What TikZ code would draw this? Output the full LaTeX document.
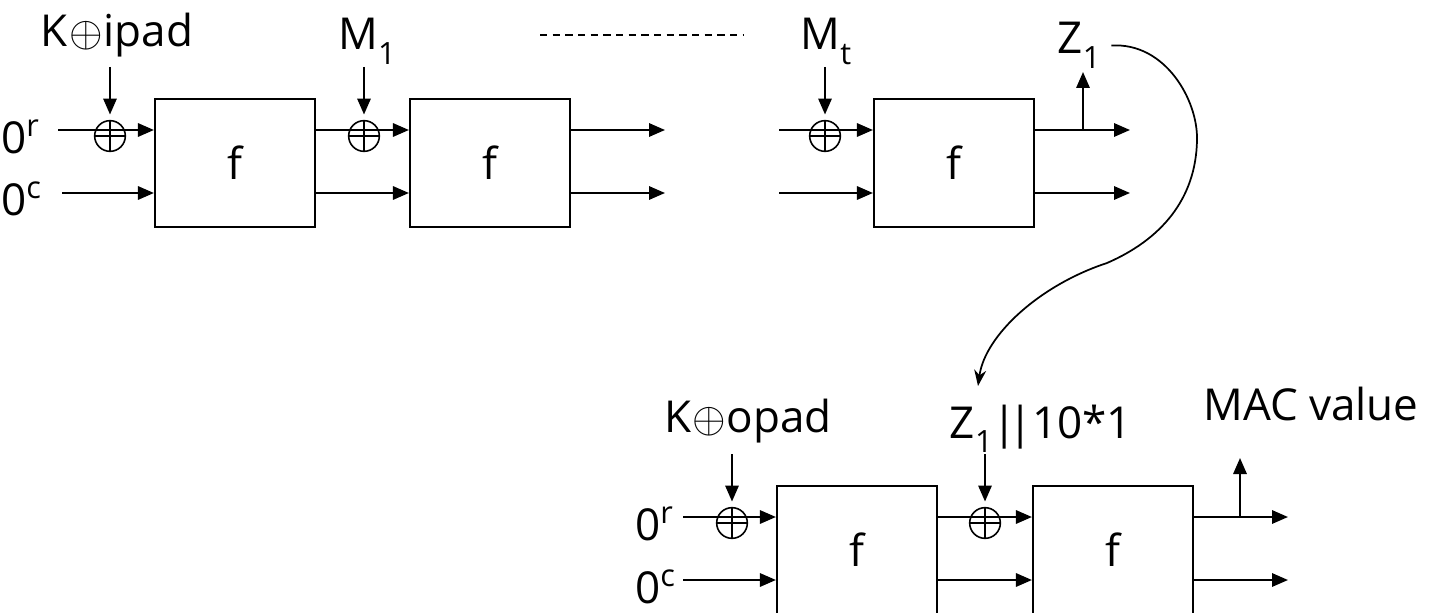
\documentclass[tikz,border=0pt]{standalone}
\usepackage{fontspec}
\usepackage{graphicx}
\setmainfont{Open Sans}
\usetikzlibrary{arrows.meta,positioning}
\newcommand{\xorsym}{\kern0.03em\scalebox{1.3}{$\oplus$}\kern0.02em}
\newcommand{\subtxt}[1]{\raisebox{-0.33em}{\fontsize{23}{23}\selectfont #1}}
\newcommand{\suptxt}[1]{\raisebox{0.37em}{\fontsize{23}{23}\selectfont #1}}

\begin{document}
\begin{tikzpicture}[
    x=0.75pt,y=-0.75pt,
    font=\fontsize{33}{38}\selectfont,
    fbox/.style={draw,line width=1.6pt,minimum width=120pt,minimum height=96pt,inner sep=0pt},
    lbl/.style={inner sep=0pt,anchor=base},
    inlbl/.style={inner sep=0pt,anchor=base west},
    xor/.style={draw,circle,line width=1.2pt,minimum size=23pt,inner sep=0pt,
      path picture={\draw[line width=1.2pt] (path picture bounding box.north) -- (path picture bounding box.south)
        (path picture bounding box.west) -- (path picture bounding box.east);}},
    arrow/.style={-{Triangle[length=12pt,width=10pt]},line width=1.6pt},
    down/.style={arrow,shorten >=4pt}
  ]
    \useasboundingbox (0,0) rectangle (1433,613);

    % inner hash
    \node[fbox] (f1) at (235,163) {f};
    \node[fbox] (f2) at (490,163) {f};
    \node[fbox] (f3) at (954,163) {f};
    \node[xor] (x1) at (110,136) {};
    \node[xor] (x2) at (364,136) {};
    \node[xor] (x3) at (825,136) {};
    \node[lbl] (kin) at (117,47) {K\xorsym ipad};
    \node[lbl] (m1) at (367,50) {M\subtxt{1}};
    \node[lbl] (mt) at (826,50) {M\subtxt{t}};
    \node[lbl] (z1) at (1079,54) {Z\subtxt{1}};
    \node[inlbl] (r1) at (1,153) {0\suptxt{r}};
    \node[inlbl] (c1) at (1,215) {0\suptxt{c}};

    \coordinate (a1) at (58,130);
    \coordinate (b1) at (62,193);
    \coordinate (a2) at (665,130);
    \coordinate (b2) at (665,193);
    \coordinate (a3) at (779,130);
    \coordinate (b3) at (779,193);
    \coordinate (a6) at (1130,130);
    \coordinate (b6) at (1130,193);
    \coordinate (t3) at (1083,130);
    \coordinate (u3) at (1083,72);
    \coordinate (k1) at (110,67);
    \coordinate (k2) at (364,67);
    \coordinate (k3) at (825,67);
    \coordinate (d1) at (540,35);
    \coordinate (d2) at (743,35);

    \draw[arrow] (a1) -- (a1 -| f1.west);
    \draw[arrow] (b1) -- (b1 -| f1.west);
    \draw[arrow] (f1.east |- a1) -- (f2.west |- a1);
    \draw[arrow] (f1.east |- b1) -- (f2.west |- b1);
    \draw[arrow] (f2.east |- a2) -- (a2);
    \draw[arrow] (f2.east |- b2) -- (b2);
    \draw[arrow] (a3) -- (a3 -| f3.west);
    \draw[arrow] (b3) -- (b3 -| f3.west);
    \draw[arrow] (f3.east |- a6) -- (a6);
    \draw[arrow] (f3.east |- b6) -- (b6);
    \draw[arrow] (t3) -- (u3);
    \draw[down] (k1) -- (x1.north);
    \draw[down] (k2) -- (x2.north);
    \draw[down] (k3) -- (x3.north);
    \draw[line width=2.2pt,dash pattern=on 5.5pt off 4pt] (d1) -- (d2);

    % outer hash
    \node[fbox] (f4) at (857,550) {f};
    \node[fbox] (f5) at (1113,550) {f};
    \node[xor] (x4) at (732,523) {};
    \node[xor] (x5) at (985,523) {};
    \node[lbl] (kout) at (748,432) {K\xorsym opad};
    \node[lbl] (zpad) at (1041,438) {Z\subtxt{1}|\kern-0.2em|10*1};
    \node[lbl] (mac) at (1311,420) {MAC value};
    \node[inlbl] (r4) at (635,540) {0\suptxt{r}};
    \node[inlbl] (c4) at (635,603) {0\suptxt{c}};

    \coordinate (a4) at (683,517);
    \coordinate (b4) at (683,580);
    \coordinate (a5) at (1288,517);
    \coordinate (b5) at (1288,580);
    \coordinate (t5) at (1240,517);
    \coordinate (u5) at (1240,458);
    \coordinate (k4) at (732,454);
    \coordinate (k5) at (985,454);
    \coordinate (zin) at (978,386);

    \draw[arrow] (a4) -- (a4 -| f4.west);
    \draw[arrow] (b4) -- (b4 -| f4.west);
    \draw[arrow] (f4.east |- a4) -- (f5.west |- a4);
    \draw[arrow] (f4.east |- b4) -- (f5.west |- b4);
    \draw[arrow] (f5.east |- a5) -- (a5);
    \draw[arrow] (f5.east |- b5) -- (b5);
    \draw[arrow] (t5) -- (u5);
    \draw[down] (k4) -- (x4.north);
    \draw[down] (k5) -- (x5.north);

    % Z1 carried over
    \draw[line width=1.3pt,-{Stealth[length=12pt,width=9pt]}] ([xshift=8pt]z1.east)
      .. controls (1165,42) and (1198,100) .. (1197,140)
      .. controls (1196,200) and (1160,240) .. (1107,263)
      .. controls (1040,285) and (985,335) .. (zin);
\end{tikzpicture}
\end{document}
